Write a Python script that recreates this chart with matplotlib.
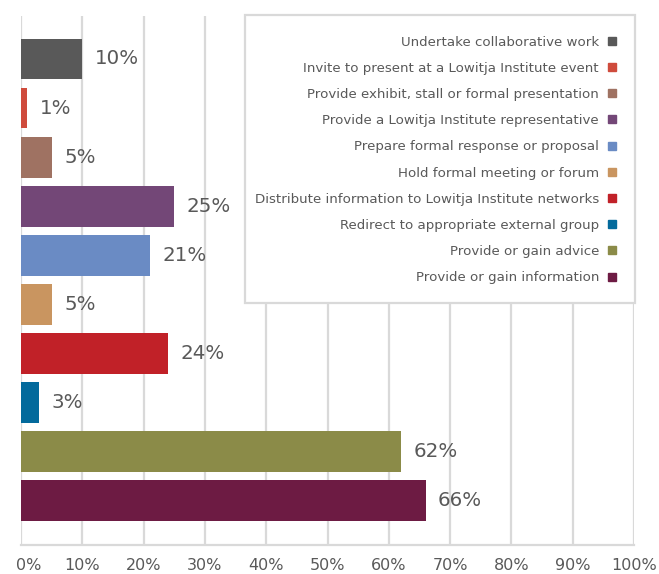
import matplotlib
matplotlib.use("Agg")
import matplotlib.pyplot as plt
import matplotlib.transforms as mtransforms
from matplotlib.lines import Line2D
from matplotlib.patches import Rectangle

plt.rcParams['font.family'] = ['DejaVu Sans']

categories = [
    "Undertake collaborative work",
    "Invite to present at a Lowitja Institute event",
    "Provide exhibit, stall or formal presentation",
    "Provide a Lowitja Institute representative",
    "Prepare formal response or proposal",
    "Hold formal meeting or forum",
    "Distribute information to Lowitja Institute networks",
    "Redirect to appropriate external group",
    "Provide or gain advice",
    "Provide or gain information",
]
values = [10, 1, 5, 25, 21, 5, 24, 3, 62, 66]
colors = ["#595959", "#cf4b3c", "#9f7262", "#734777", "#6a8bc4",
          "#c99560", "#c12128", "#036a9c", "#8b8b48", "#6d1b43"]
xticks = [0, 10, 20, 30, 40, 50, 60, 70, 80, 90, 100]
xtick_labels = [f"{t}%" for t in xticks]

TEXT = "#595959"
GRID = "#d9d9d9"
W, H = 659, 574

fig = plt.figure(figsize=(W / 100, H / 100), dpi=100)
ax = fig.add_axes([0.032, 0.0505, 0.930, 0.922])

ypos = list(range(len(categories)))
ax.barh(ypos, values, height=0.83, color=colors, zorder=3)

for y, v in zip(ypos, values):
    ax.annotate(f"{v}%", xy=(v, y), xytext=(9, 0), textcoords="offset points",
                va="center", ha="left", fontsize=14.3, color=TEXT)

ax.set_xlim(0, 100)
ax.set_ylim(9.9, -0.88)
ax.set_xticks(xticks)
ax.set_xticklabels(xtick_labels)
ax.set_yticks([])
ax.tick_params(axis="x", length=0, pad=9, labelsize=11.5, labelcolor=TEXT)
# keep the first tick label inside the figure edge
first = ax.get_xticklabels()[0]
first.set_transform(first.get_transform() +
                    mtransforms.ScaledTranslation(8 / 100, 0, fig.dpi_scale_trans))
ax.grid(axis="x", color=GRID, linewidth=1.6, zorder=0)
for side in ["top", "right", "left"]:
    ax.spines[side].set_visible(False)
ax.spines["bottom"].set_color(GRID)
ax.spines["bottom"].set_linewidth(1.6)

# legend box drawn as its own white panel over the grid
box = Rectangle((245 / W, 1 - 303 / H), 390 / W, 288 / H,
                transform=fig.transFigure, facecolor="white",
                edgecolor=GRID, linewidth=1.6, zorder=5)
fig.add_artist(box)

handles = [Line2D([], [], linestyle="none", marker="s", markersize=5.5,
                  markerfacecolor=c, markeredgecolor=c) for c in colors]
leg = fig.legend(handles, categories, loc="upper right",
                 bbox_to_anchor=(617 / W, 1 - 35.5 / H),
                 markerfirst=False, fontsize=9.6, labelcolor=TEXT,
                 frameon=False, borderpad=0,
                 labelspacing=0.99, handlelength=0.8, handletextpad=0.55,
                 borderaxespad=0)
leg.set_zorder(6)

fig.savefig("out.png", dpi=100)
